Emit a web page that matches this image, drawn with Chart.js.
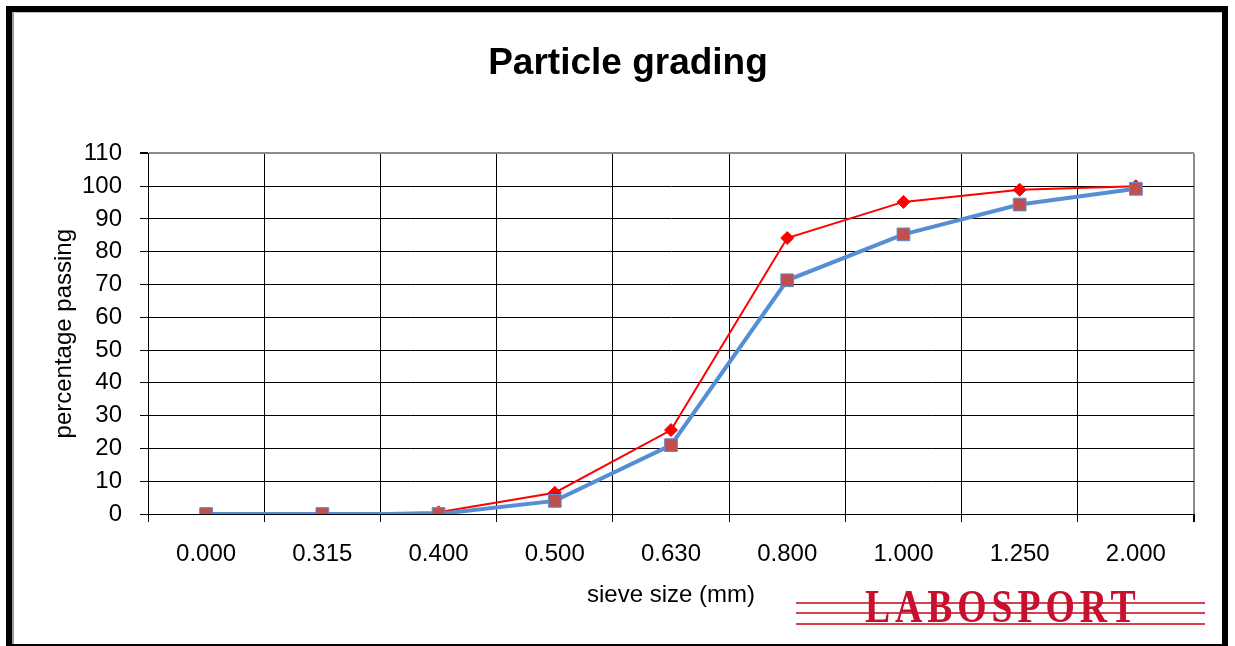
<!DOCTYPE html>
<html>
<head>
<meta charset="utf-8">
<title>Particle grading</title>
<script src="https://cdn.jsdelivr.net/npm/chart.js@4.4.0/dist/chart.umd.min.js"></script>
<style>
  body { margin: 0; background: #fff; }
  #wrap { position: relative; width: 1235px; height: 646px; overflow: hidden; }
  #gradingChart { position: absolute; left: 0; top: 0; }
  #frame {
    position: absolute; left: 6px; top: 6px; width: 1222px; height: 644px;
    box-sizing: border-box; border: 6px solid #000; pointer-events: none;
  }
  #frame::before {
    content: ''; position: absolute; left: 0; top: 0; right: 0; bottom: 0;
    border-left: 2px solid #9a9a9a; border-top: 1px solid #c0c0c0;
  }
  #logo { position: absolute; left: 796px; top: 585px; width: 410px; height: 50px; }
  #logo .rule { position: absolute; left: 0; width: 409px; height: 2px; background: #d4424c; }
  #logo .word {
    position: absolute; left: 69px; top: -1px; line-height: 46px; white-space: nowrap;
    font-family: 'Liberation Serif', 'Times New Roman', serif; font-weight: bold;
    font-size: 46px; letter-spacing: 6px; color: #c8102e;
    transform: scaleX(0.82); transform-origin: 0 0;
  }
</style>
</head>
<body>
<div id="wrap">
  <canvas id="gradingChart" width="1235" height="646"></canvas>
  <div id="logo">
    <div class="rule" style="top:17px"></div>
    <div class="rule" style="top:27px"></div>
    <div class="rule" style="top:38px"></div>
    <span class="word">LABOSPORT</span>
  </div>
  <div id="frame"></div>
</div>
<script>
// sieve sizes (mm) and percentage passing for the two samples
const sieveSizes = ['0.000', '0.315', '0.400', '0.500', '0.630', '0.800', '1.000', '1.250', '2.000'];
const passingBlue = [0, 0, 0, 4, 21, 71.3, 85.3, 94.4, 99.2];
const passingRed = [0, 0, 0.5, 6.5, 25.6, 84.2, 95.2, 98.9, 100];
const yMin = 0;
const yMax = 110;
const yStep = 10;

Chart.defaults.font.family = "'Liberation Sans', Arial, sans-serif";
Chart.defaults.color = '#000';

const ctx = document.getElementById('gradingChart').getContext('2d');
new Chart(ctx, {
  type: 'line',
  data: {
    labels: sieveSizes,
    datasets: [{
      label: 'Sample 1',
      data: passingBlue,
      borderColor: '#558ED5',
      borderWidth: 4,
      pointStyle: 'rect',
      pointRadius: 9,
      pointBackgroundColor: '#C0504D',
      pointBorderColor: '#5B8ED6',
      pointBorderWidth: 1,
      tension: 0
    }, {
      label: 'Sample 2',
      data: passingRed,
      borderColor: '#FF0000',
      borderWidth: 2,
      pointStyle: 'rectRot',
      pointRadius: 6.5,
      pointBackgroundColor: '#FF0000',
      pointBorderColor: '#FF0000',
      pointBorderWidth: 1,
      tension: 0
    }]
  },
  options: {
    responsive: false,
    animation: false,
    layout: { padding: { left: 62, right: 41, top: 20, bottom: 32 } },
    plugins: {
      legend: { display: false },
      tooltip: { enabled: false },
      title: {
        display: true,
        text: 'Particle grading',
        color: '#000',
        font: { size: 37, weight: 'bold' },
        padding: { top: 22, bottom: 67 }
      }
    },
    scales: {
      x: {
        offset: true,
        grid: {
          offset: true,
          color: c => (c.type === 'scale' ? '#8c8c8c' : '#000'),
          lineWidth: c => (c.type === 'scale' ? 2 : 1),
          tickColor: '#000',
          tickLength: 8
        },
        border: { color: '#000', width: 1 },
        ticks: { font: { size: 24 }, color: '#000', padding: 18, maxRotation: 0, autoSkip: false },
        title: {
          display: true,
          text: 'sieve size (mm)',
          color: '#000',
          font: { size: 24 },
          padding: { top: 0, bottom: 4 }
        },
        afterFit: s => { s.height = 100; }
      },
      y: {
        min: yMin,
        max: yMax,
        grid: {
          color: c => (c.tick && c.tick.value === yMax ? '#8c8c8c' : '#000'),
          lineWidth: c => (c.tick && c.tick.value === yMax ? 2 : 1),
          tickColor: '#000',
          tickLength: 8
        },
        border: { color: '#000', width: 1 },
        ticks: { stepSize: yStep, font: { size: 24 }, color: '#000', padding: 18, autoSkip: false },
        title: {
          display: true,
          text: 'percentage passing',
          color: '#000',
          font: { size: 24 },
          padding: { top: -12, bottom: 0 }
        },
        afterFit: s => { s.width = 86; }
      }
    }
  }
});
</script>
</body>
</html>
